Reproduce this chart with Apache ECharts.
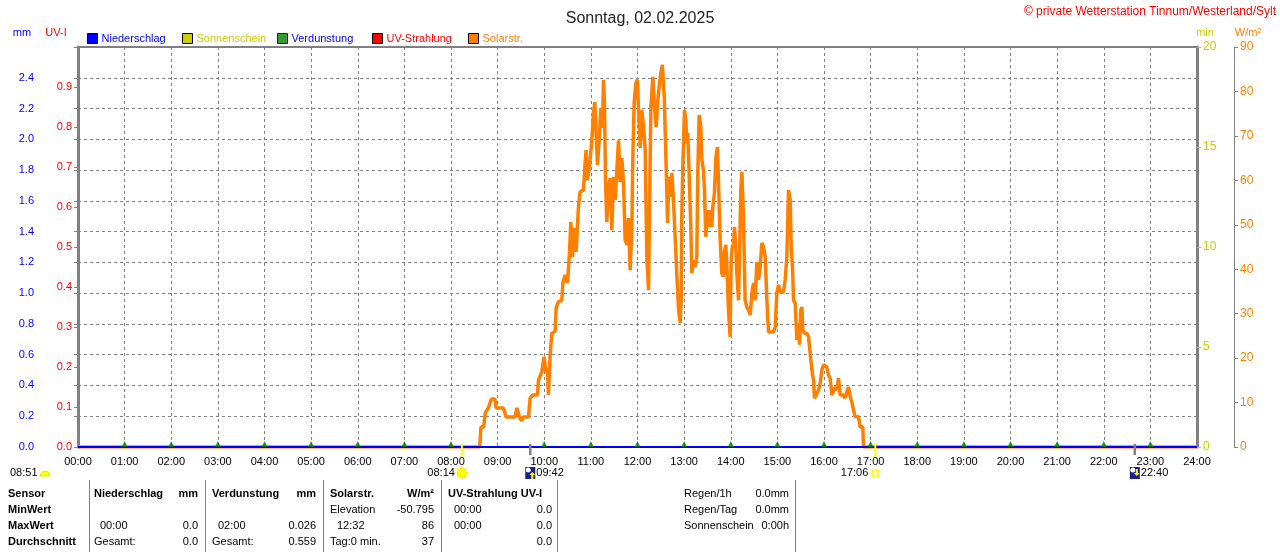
<!DOCTYPE html>
<html>
<head>
<meta charset="utf-8">
<script src="https://cdn.jsdelivr.net/npm/echarts@6/dist/echarts.min.js"></script>
<style>
html,body{margin:0;padding:0;background:#fff;}
#chart{width:1280px;height:552px;}
</style>
</head>
<body>
<div id="chart"></div>
<script>
// ---- data ----
const titleText = 'Sonntag, 02.02.2025';
const legendNames = ['Niederschlag', 'Sonnenschein', 'Verdunstung', 'UV-Strahlung', 'Solarstr.'];
// solar radiation [minute of day, W/m²]
const solarReadings = [
[0,0],[517,0],[518.5,4.5],[522,4.5],[524,7.6],[528,8.8],[532,10.8],[536.5,10.8],[538,8.8],[547.5,8.8],
[551,6.75],[562.5,6.75],[564.7,8.8],[568,6.75],[571,5.9],[573,6.75],[579.7,6.75],[581.8,11],[585.3,11.7],[591.2,11.7],
[592.5,15],[596.8,16.9],[599.8,20.3],[602.4,16.6],[604,17.8],[605.4,11.7],[607.5,20.3],[609.7,25.6],[614,26],[615.3,31.3],
[618.3,32.7],[622.6,33],[623.9,36.9],[626.9,38.7],[629.9,36.9],[632.5,43.9],[634.2,50.6],[636.3,42.7],[638.5,49.3],[641,43.9],
[644,54],[646.1,57.4],[650.4,57.8],[652.6,63.9],[653.9,66.8],[655.6,60],[659,64.6],[661.2,69],[663.3,75.1],[665,77.6],
[666.8,70.6],[668.5,63.4],[671.1,70.2],[672.8,76.3],[675,71.8],[676.2,82.6],[677.5,77.4],[678.8,60],[680.5,50.6],[682.7,58.5],
[684.8,60.5],[687,48.8],[689.1,60.8],[691.3,55.6],[693.4,62.3],[695.6,69],[697.7,59.6],[699.9,65],[702,59.4],[704.1,46.6],
[706.4,45.5],[708.4,51.5],[710.5,39.8],[712.8,48.8],[714,65.3],[715.7,77.4],[717.9,81.9],[720,82.6],[721.3,75.8],[723.5,67.3],
[725.6,75.8],[727.8,72],[729.9,66.8],[732,42.8],[734.2,35.3],[735.5,53.3],[737.2,76.5],[739.8,83.3],[741.5,77.4],[744.1,72],
[745.8,77.4],[748.4,81.9],[750.1,84.2],[752,86],[754.4,78.8],[757,62.3],[758.7,50.4],[760.4,60.8],[762.2,56.3],[764.3,61.7],
[766.4,55],[768.6,46.6],[770.7,38.3],[772.9,30.8],[775,27.9],[776.2,33],[777,52.2],[778.3,62.8],[779.2,68.4],[780.5,75.8],
[782.2,73.6],[783.5,68.4],[784.7,70.7],[786.4,61.9],[788.6,49.5],[789.9,39.1],[792,42],[794.1,40.5],[796.3,42.8],[797.6,61.6],
[799.3,74.7],[801.5,72],[802.8,64.6],[804.9,62.3],[806.2,57.8],[807.9,47.3],[809.2,50.4],[811.3,53.3],[812.6,49.5],[814.3,53.3],
[815.6,49.5],[816.9,54],[819,57.1],[820.8,65],[822.9,67.5],[825,67.5],[826.4,46.6],[828.5,39.1],[830.6,38.3],[831.9,43.9],
[833.6,45.5],[834.9,41.4],[837.1,30.8],[839.2,24.8],[840.5,42],[842.2,45.5],[843.5,45],[844.8,49.5],[846.5,45],[847.8,39.1],
[850,33],[851.3,42.8],[853,58.5],[854.3,61.9],[856.4,51.8],[858.5,33],[860.7,31.5],[862.9,30.8],[865,29.7],[867.2,34.6],
[869.3,36.9],[871.4,33],[873.6,41.6],[875.7,37.6],[877.9,40.5],[880,45.9],[882.2,45],[884.3,42.8],[886.5,33],[888.6,25.9],
[895,25.9],[897.2,27],[899.3,34.6],[901.5,36.5],[903.6,34.9],[907.9,34.9],[910,37.6],[912.2,42.8],[914.3,57.8],[916.5,55.6],
[917.8,45],[919.5,40.3],[920.8,33],[922.9,32.4],[925.1,24.1],[927.2,27.9],[928.5,23],[930.2,30.8],[931.5,31.5],[932.8,26.3],
[934.9,25.6],[937.9,25.6],[940.1,24.8],[942.2,21.1],[944.4,17.3],[946.5,15],[947.8,11],[949.9,11.3],[952.9,12.8],[955.1,14.4],
[957.2,17.3],[959.4,18.5],[961.5,18.9],[963.6,18],[965.8,16.2],[967.9,15.5],[970.1,11.7],[972.2,11.7],[974.4,13.5],[976.5,12.8],
[978.7,15.5],[980.8,11.7],[985.1,11.7],[987.2,11],[989.4,12.4],[991.5,13.5],[993.7,11.3],[995.8,10.1],[998,8.3],[1000.1,6.8],
[1004.4,6.8],[1006.5,4.5],[1010,4.5],[1010.8,0],[1440,0]
];
const rainReadings = [[0,0],[1440,0]];
const uvReadings = [[0,0],[1440,0]];
const evapHours = [1,2,3,4,5,6,7,8,10,11,12,13,14,15,16,17,18,19,20,21,22,23];
const evapValues = evapHours.map(() => 0);
// astronomical events (minute of day)
const sunriseMin = 494, moonriseMin = 582, sunsetMin = 1026, moonsetMin = 1360;
const sunriseLabel = '08:14', moonriseLabel = '09:42', sunsetLabel = '17:06', moonsetLabel = '22:40', dayLengthLabel = '08:51';
// summary table
const tableHeader = ['Sensor', 'Niederschlag', 'mm', 'Verdunstung', 'mm', 'Solarstr.', 'W/m²', 'UV-Strahlung UV-I'];
const rowLabels = ['MinWert', 'MaxWert', 'Durchschnitt'];
const rainCol = [['', ''], ['00:00', '0.0'], ['Gesamt:', '0.0']];
const evapCol = [['', ''], ['02:00', '0.026'], ['Gesamt:', '0.559']];
const solarCol = [['Elevation', '-50.795'], ['12:32', '86'], ['Tag:0 min.', '37']];
const uvCol = [['00:00', '0.0'], ['00:00', '0.0'], ['', '0.0']];
const extraLabels = ['Regen/1h', 'Regen/Tag', 'Sonnenschein'];
const extraValues = ['0.0mm', '0.0mm', '0:00h'];

const FONT = '"Liberation Sans", Arial, sans-serif';
const GRID = '#808080';
const pad = n => (n < 10 ? '0' : '') + n;

const chart = echarts.init(document.getElementById('chart'));

function legendAt(name, left, color, textColor) {
  return {
    left: left, top: 33, padding: 0, itemWidth: 10, itemHeight: 10, itemGap: 4,
    selectedMode: false,
    data: [{ name: name, icon: 'rect', itemStyle: { color: color, borderColor: '#000', borderWidth: 1 },
             textStyle: { color: textColor, fontSize: 11, fontFamily: FONT, padding: [0, 0, 0, -1] } }]
  };
}

const option = {
  animation: false,
  textStyle: { fontFamily: FONT },
  title: { text: titleText, left: 'center', top: 6,
           textStyle: { fontSize: 16, fontWeight: 'normal', color: '#222', fontFamily: FONT } },
  legend: [
    legendAt(legendNames[0], 87, '#0000FF', '#0000FF'),
    legendAt(legendNames[1], 182, '#CCCC00', '#CCCC00'),
    legendAt(legendNames[2], 277, '#008000', '#0000FF'),
    legendAt(legendNames[3], 372, '#FF0000', '#FF0000'),
    legendAt(legendNames[4], 468, '#FF8000', '#FF8000')
  ],
  grid: { left: 78, right: 83, top: 47, bottom: 105, show: true, borderColor: GRID, borderWidth: 2, backgroundColor: '#fff' },
  xAxis: {
    type: 'value', min: 0, max: 1440, interval: 60,
    axisLine: { show: true, lineStyle: { color: GRID, width: 2 } },
    axisTick: { show: false },
    axisLabel: { color: '#000', fontSize: 11, margin: 9, formatter: v => pad(Math.round(v / 60)) + ':00' },
    splitLine: { show: true, lineStyle: { color: GRID, type: [3, 3], width: 1 } }
  },
  yAxis: [
    { type: 'value', min: 0, max: 2.6, interval: 0.2, position: 'left', offset: 38,
      axisLine: { show: true, lineStyle: { color: GRID, width: 1 } },
      axisTick: { show: true, length: 4, lineStyle: { color: GRID } },
      axisLabel: { color: '#0000FF', fontSize: 11, margin: 6, formatter: v => (v > 2.5 ? '' : v.toFixed(1)) },
      splitLine: { show: true, lineStyle: { color: GRID, type: [3, 3], width: 1 } } },
    { type: 'value', min: 0, max: 1, interval: 0.1, position: 'left', offset: 0,
      axisLine: { show: true, lineStyle: { color: GRID, width: 3 } },
      axisTick: { show: true, length: 4, lineStyle: { color: GRID } },
      axisLabel: { color: '#FF0000', fontSize: 11, margin: 6, formatter: v => (v > 0.95 ? '' : v.toFixed(1)) },
      splitLine: { show: false } },
    { type: 'value', min: 0, max: 20, interval: 5, position: 'right', offset: 0,
      axisLine: { show: true, lineStyle: { color: GRID, width: 3 } },
      axisTick: { show: true, length: 4, lineStyle: { color: '#CCCC00' } },
      axisLabel: { color: '#CCCC00', fontSize: 12, margin: 6 },
      splitLine: { show: false } },
    { type: 'value', min: 0, max: 90, interval: 10, position: 'right', offset: 37,
      axisLine: { show: true, lineStyle: { color: GRID, width: 1 } },
      axisTick: { show: true, length: 4, lineStyle: { color: GRID } },
      axisLabel: { color: '#FF8000', fontSize: 12, margin: 6 },
      splitLine: { show: false } }
  ],
  series: [
    { name: legendNames[1], type: 'bar', yAxisIndex: 2, data: [], itemStyle: { color: '#CCCC00' } },
    { name: legendNames[4], type: 'line', yAxisIndex: 3, data: solarReadings, showSymbol: false, symbol: 'none',
      lineStyle: { color: '#FF8000', width: 3.5 }, itemStyle: { color: '#FF8000' }, z: 3 },
    { name: legendNames[3], type: 'line', yAxisIndex: 1, data: uvReadings, symbol: 'none',
      lineStyle: { color: '#FF0000', width: 2 }, itemStyle: { color: '#FF0000' }, z: 4 },
    { name: legendNames[0], type: 'line', yAxisIndex: 0, data: rainReadings, symbol: 'none',
      lineStyle: { color: '#0000FF', width: 2 }, itemStyle: { color: '#0000FF' }, z: 5 },
    { name: legendNames[2], type: 'scatter', yAxisIndex: 0,
      data: evapHours.map((h, i) => [h * 60, evapValues[i]]),
      symbol: 'triangle', symbolSize: [6, 6], symbolOffset: [0, -3],
      itemStyle: { color: '#008000' }, z: 6 }
  ]
};
chart.setOption(option);

// ---- decorations (positions derived from the axes) ----
const px = m => chart.convertToPixel({ xAxisIndex: 0 }, m);
const baseY = chart.convertToPixel({ yAxisIndex: 0 }, 0);

const g = [];
function txt(t, x, y, color, opts) {
  opts = opts || {};
  g.push({ type: 'text', silent: true, z: 100,
    style: { text: t, x: x, y: y, fill: color || '#000',
             font: (opts.bold ? 'bold ' : '') + (opts.size || 11) + 'px ' + FONT,
             textAlign: opts.align || 'left', textVerticalAlign: 'middle' } });
}
function line(x1, y1, x2, y2, color, w) {
  g.push({ type: 'line', silent: true, z: 100, shape: { x1: x1, y1: y1, x2: x2, y2: y2 },
           style: { stroke: color, lineWidth: w || 1 } });
}
function sunIcon(cx, cy) {
  for (let k = 0; k < 8; k++) {
    const a = k * Math.PI / 4;
    line(cx + Math.cos(a) * 4, cy + Math.sin(a) * 4, cx + Math.cos(a) * 7, cy + Math.sin(a) * 7, '#FFFF00', 1.5);
  }
  g.push({ type: 'circle', silent: true, z: 101, shape: { cx: cx, cy: cy, r: 4.5 }, style: { fill: '#FFFF00', stroke: '#E8E800' } });
}
function moonIcon(cx, cy, up) {
  g.push({ type: 'rect', silent: true, z: 100, shape: { x: cx - 5, y: cy - 6, width: 10, height: 12 }, style: { fill: '#1C1C8C' } });
  g.push({ type: 'circle', silent: true, z: 101, shape: { cx: cx - 2, cy: cy - 3, r: 2.5 }, style: { fill: '#FFFFFF' } });
  const pts = up ? [[cx + 2, cy - 1], [cx - 1, cy + 2], [cx + 1, cy + 2], [cx + 1, cy + 6], [cx + 3, cy + 6], [cx + 3, cy + 2], [cx + 5, cy + 2]]
                 : [[cx + 2, cy + 3], [cx - 1, cy], [cx + 1, cy], [cx + 1, cy - 4], [cx + 3, cy - 4], [cx + 3, cy], [cx + 5, cy]];
  g.push({ type: 'polygon', silent: true, z: 102, shape: { points: pts }, style: { fill: '#FFFF00' } });
}

// titles / axis names
txt('© private Wetterstation Tinnum/Westerland/Sylt', 1276, 12, '#FF0000', { size: 12, align: 'right' });
txt('mm', 22, 33, '#0000FF', { size: 11, align: 'center' });
txt('UV-I', 56, 33, '#FF0000', { size: 11, align: 'center' });
txt('min', 1205, 33, '#CCCC00', { size: 11, align: 'center' });
txt('W/m²', 1248, 33, '#FF8000', { size: 11, align: 'center' });

// sun / moon event ticks
const sx = px(sunriseMin), ssx = px(sunsetMin), mx = px(moonriseMin), msx = px(moonsetMin);
line(sx, baseY - 4, sx, baseY + 10, '#FFFF00', 2);
line(ssx, baseY - 4, ssx, baseY + 10, '#FFFF00', 2);
line(mx, baseY - 3, mx, baseY + 8, GRID, 2.5);
line(msx, baseY - 3, msx, baseY + 8, GRID, 2.5);
const evY = baseY + 26;
txt(sunriseLabel, sx - 7, evY, '#000', { size: 11, align: 'right' });
sunIcon(sx, evY);
moonIcon(mx, evY, true);
txt(moonriseLabel, mx + 6, evY, '#000', { size: 11 });
txt(sunsetLabel, ssx - 7, evY, '#000', { size: 11, align: 'right' });
g.push({ type: 'rect', silent: true, z: 100, shape: { x: ssx - 3, y: evY - 3, width: 6, height: 6 }, style: { fill: 'none', stroke: '#FFFF00', lineWidth: 1.5 } });
moonIcon(msx, evY, false);
txt(moonsetLabel, msx + 6, evY, '#000', { size: 11 });
txt(dayLengthLabel, 10, evY, '#000', { size: 11 });
g.push({ type: 'sector', silent: true, z: 100, shape: { cx: 45, cy: evY + 3, r0: 0, r: 5, startAngle: Math.PI, endAngle: Math.PI * 2, clockwise: true },
         style: { fill: '#FFFF00', stroke: '#E8E800' } });

// summary table
const rowY = [494, 510, 526, 542];
[89, 205, 323, 441, 557, 795].forEach(x => line(x + 0.5, 480, x + 0.5, 552, GRID, 1));
txt(tableHeader[0], 8, rowY[0], '#000', { bold: true });
txt(tableHeader[1], 94, rowY[0], '#000', { bold: true });
txt(tableHeader[2], 198, rowY[0], '#000', { bold: true, align: 'right' });
txt(tableHeader[3], 212, rowY[0], '#000', { bold: true });
txt(tableHeader[4], 316, rowY[0], '#000', { bold: true, align: 'right' });
txt(tableHeader[5], 330, rowY[0], '#000', { bold: true });
txt(tableHeader[6], 434, rowY[0], '#000', { bold: true, align: 'right' });
txt(tableHeader[7], 448, rowY[0], '#000', { bold: true });
rowLabels.forEach((r, i) => {
  const y = rowY[i + 1];
  txt(r, 8, y, '#000', { bold: true });
  const rc = rainCol[i], ec = evapCol[i], sc = solarCol[i], uc = uvCol[i];
  txt(rc[0], rc[0] === 'Gesamt:' ? 94 : 100, y, '#000');
  txt(rc[1], 198, y, '#000', { align: 'right' });
  txt(ec[0], ec[0] === 'Gesamt:' ? 212 : 218, y, '#000');
  txt(ec[1], 316, y, '#000', { align: 'right' });
  txt(sc[0], sc[0] === '12:32' ? 337 : 330, y, '#000');
  txt(sc[1], 434, y, '#000', { align: 'right' });
  txt(uc[0], 454, y, '#000');
  txt(uc[1], 552, y, '#000', { align: 'right' });
});
extraLabels.forEach((l, i) => {
  txt(l, 684, rowY[i], '#000');
  txt(extraValues[i], 789, rowY[i], '#000', { align: 'right' });
});

chart.setOption({ graphic: { elements: g } });
</script>
</body>
</html>
